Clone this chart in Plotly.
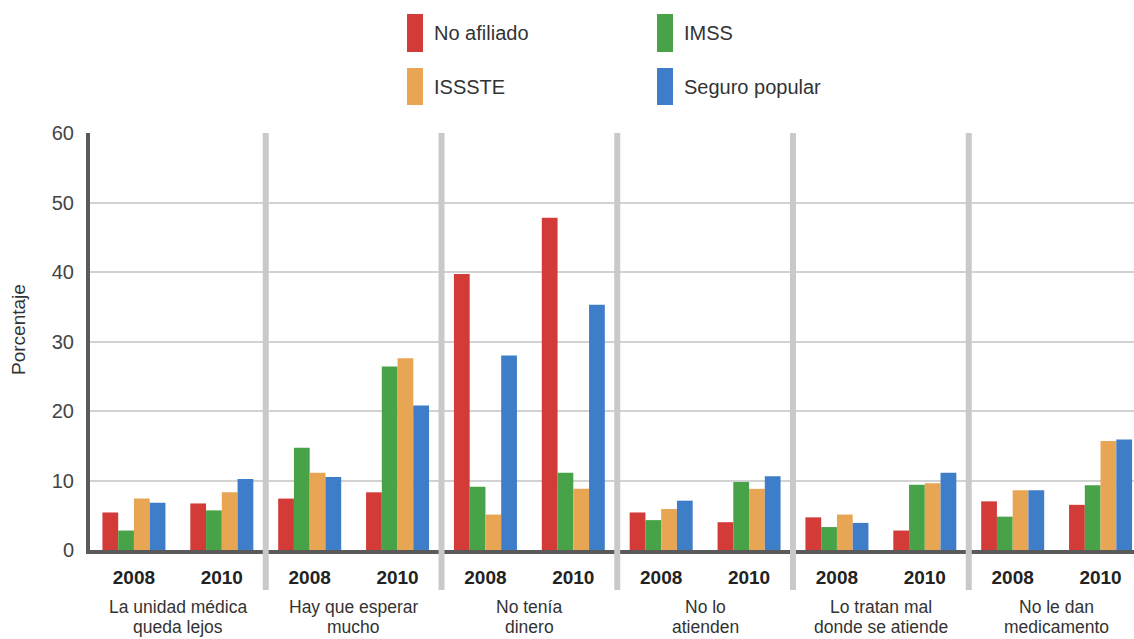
import plotly.graph_objects as go

# ---------------- data ----------------
categories = [
    "La unidad médica\nqueda lejos",
    "Hay que esperar\nmucho",
    "No tenía\ndinero",
    "No lo\natienden",
    "Lo tratan mal\ndonde se atiende",
    "No le dan\nmedicamento",
]
years = ["2008", "2010"]
series_names = ["No afiliado", "IMSS", "ISSSTE", "Seguro popular"]

# values ordered: category1-2008, category1-2010, category2-2008, ...
no_afiliado = [5.4, 6.7, 7.4, 8.3, 39.7, 47.8, 5.4, 4.0, 4.7, 2.8, 7.0, 6.5]
imss = [2.8, 5.7, 14.7, 26.4, 9.1, 11.1, 4.3, 9.8, 3.3, 9.4, 4.8, 9.3]
issste = [7.4, 8.3, 11.1, 27.6, 5.1, 8.8, 5.9, 8.8, 5.1, 9.6, 8.6, 15.7]
seguro_popular = [6.8, 10.2, 10.5, 20.8, 28.0, 35.3, 7.1, 10.6, 3.9, 11.1, 8.6, 15.9]

series_values = [no_afiliado, imss, issste, seguro_popular]
colors = ["#d23b37", "#48a247", "#e8a553", "#3e7dc8"]

# ---------------- layout geometry ----------------
W, H = 1134, 639
ML, MR, MT, MB = 90, 0, 133, 89
PW, PH = W - ML - MR, H - MT - MB
GROUP_PX = 175.75
x_range = [-0.5, -0.5 + PW / GROUP_PX]


def px_x(p):
    return (p - ML) / PW


def px_y(p):
    return (H - MB - p) / PH


year_offsets = [-0.25, 0.25]
xpos = [g + year_offsets[y] for g in range(len(categories)) for y in range(len(years))]
ticktext = ["<b>%s</b>" % years[y] for g in range(len(categories)) for y in range(len(years))]

fig = go.Figure()
for name, vals, col in zip(series_names, series_values, colors):
    fig.add_trace(go.Bar(x=xpos, y=vals, name=name, marker=dict(color=col, line=dict(width=0)),
                         showlegend=False))

shapes = []
# group separators
for g in range(1, len(categories)):
    shapes.append(dict(type="line", xref="x", yref="paper", x0=g - 0.5, x1=g - 0.5,
                       y0=px_y(590), y1=1, line=dict(color="#c9c9cb", width=6), layer="above"))

# legend swatches (manual, tall rectangles)
legend_pos = [(407, 14, 52), (657, 14, 52), (407, 68, 105), (657, 68, 105)]
annotations = []
for name, col, (lx, ty, by) in zip(series_names, colors, legend_pos):
    shapes.append(dict(type="rect", xref="paper", yref="paper",
                       x0=px_x(lx), x1=px_x(lx + 16), y0=px_y(by), y1=px_y(ty),
                       fillcolor=col, line=dict(width=0), layer="above"))
    annotations.append(dict(text=name, xref="paper", yref="paper", x=px_x(lx + 25),
                            y=px_y((ty + by) / 2), xanchor="left", yanchor="middle",
                            showarrow=False, font=dict(size=20, color="#333333",
                                                       family="Liberation Sans, Arial")))

# category labels (two lines)
for g, cat in enumerate(categories):
    lines = cat.split("\n")
    for k, line in enumerate(lines):
        annotations.append(dict(text=line, xref="x", yref="paper", x=g, y=px_y(607 + 20 * k),
                                xanchor="center", yanchor="middle", showarrow=False,
                                font=dict(size=17.5, color="#333333",
                                          family="Liberation Sans, Arial")))

# y axis title
annotations.append(dict(text="Porcentaje", xref="paper", yref="paper", x=px_x(18),
                        y=px_y(330), textangle=-90, xanchor="center", yanchor="middle",
                        showarrow=False, font=dict(size=19, color="#333333",
                                                   family="Liberation Sans, Arial")))

fig.update_layout(
    width=W, height=H,
    margin=dict(l=ML, r=MR, t=MT, b=MB, pad=0),
    paper_bgcolor="white", plot_bgcolor="white",
    barmode="group", bargap=0.283, bargroupgap=0,
    shapes=shapes, annotations=annotations,
    font=dict(family="Liberation Sans, Arial", color="#333333"),
    xaxis=dict(range=x_range, tickvals=xpos, ticktext=ticktext, showgrid=False,
               zeroline=False, showline=True, linecolor="#5a5a5a", linewidth=4,
               ticks="", ticklabelstandoff=7,
               tickfont=dict(size=19, color="#222222", family="Liberation Sans, Arial")),
    yaxis=dict(range=[0, 60], tickvals=[0, 10, 20, 30, 40, 50, 60], showgrid=True,
               gridcolor="#d2d2d2", gridwidth=2, zeroline=False, showline=True,
               linecolor="#5a5a5a", linewidth=4, ticks="", ticklabelstandoff=8,
               tickfont=dict(size=20, color="#444444", family="Liberation Sans, Arial")),
)

fig.write_html("out.html", config={"displayModeBar": False},
               post_script="document.body.style.margin='0';document.body.style.overflow='hidden';")
